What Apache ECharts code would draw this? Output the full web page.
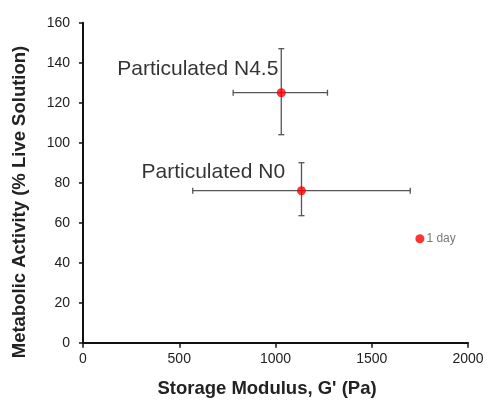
<!DOCTYPE html>
<html>
<head>
<meta charset="utf-8">
<script src="https://cdn.jsdelivr.net/npm/echarts@6/dist/echarts.min.js"></script>
<style>
html,body{margin:0;padding:0;background:#fff;}
#chart{width:488px;height:402px;}
</style>
</head>
<body>
<div id="chart"></div>
<script>
// Samples: storage modulus (Pa) vs metabolic activity (% live solution)
const sampleNames = ['Particulated N4.5', 'Particulated N0'];
const modulus = [1030, 1135];
const modulusLow = [780, 570];
const modulusHigh = [1270, 1700];
const activity = [125, 76];
const activityLow = [104, 63.5];
const activityHigh = [147, 90];

// Reference point at 1 day
const dayPoint = [1750, 52];
const dayLabel = '1 day';

const xTicks = [0, 500, 1000, 1500, 2000];
const yTicks = [0, 20, 40, 60, 80, 100, 120, 140, 160];

const xTitle = "Storage Modulus, G' (Pa)";
const yTitle = 'Metabolic Activity (% Live Solution)';

const chart = echarts.init(document.getElementById('chart'), null, {renderer: 'canvas'});

const errData = modulus.map((m, i) => [m, activity[i], modulusLow[i], modulusHigh[i], activityLow[i], activityHigh[i]]);

function renderErr(params, api) {
  const x = api.value(0), y = api.value(1);
  const c = api.coord([x, y]);
  const xl = api.coord([api.value(2), y]);
  const xh = api.coord([api.value(3), y]);
  const yl = api.coord([x, api.value(4)]);
  const yh = api.coord([x, api.value(5)]);
  const cap = 3;
  const style = {stroke: '#555', lineWidth: 1.3, fill: null};
  return {
    type: 'group',
    children: [
      {type: 'line', shape: {x1: xl[0], y1: c[1], x2: xh[0], y2: c[1]}, style},
      {type: 'line', shape: {x1: xl[0], y1: c[1] - cap, x2: xl[0], y2: c[1] + cap}, style},
      {type: 'line', shape: {x1: xh[0], y1: c[1] - cap, x2: xh[0], y2: c[1] + cap}, style},
      {type: 'line', shape: {x1: c[0], y1: yl[1], x2: c[0], y2: yh[1]}, style},
      {type: 'line', shape: {x1: c[0] - cap, y1: yl[1], x2: c[0] + cap, y2: yl[1]}, style},
      {type: 'line', shape: {x1: c[0] - cap, y1: yh[1], x2: c[0] + cap, y2: yh[1]}, style}
    ]
  };
}

const axisText = {fontFamily: 'Liberation Sans', fontSize: 14, color: '#222', formatter: v => String(v)};
const titleFont = {fontFamily: 'Liberation Sans', fontSize: 18.5, fontWeight: 'bold', fill: '#222',
  textAlign: 'center', textVerticalAlign: 'middle'};

chart.setOption({
  animation: false,
  backgroundColor: '#fff',
  grid: {left: 83, right: 20, top: 22.7, bottom: 59.3, containLabel: false, outerBoundsMode: 'none'},
  graphic: [
    {type: 'text', x: 267, y: 389, style: Object.assign({text: xTitle}, titleFont)},
    {type: 'text', x: 20, y: 202, rotation: Math.PI / 2, style: Object.assign({text: yTitle}, titleFont)}
  ],
  xAxis: {
    type: 'value', min: xTicks[0], max: xTicks[xTicks.length - 1], interval: 500,
    axisLine: {lineStyle: {color: '#111', width: 2}},
    axisTick: {show: true, inside: false, length: 5, lineStyle: {color: '#111', width: 1.5}},
    axisLabel: Object.assign({margin: 9}, axisText),
    splitLine: {show: false}
  },
  yAxis: {
    type: 'value', min: yTicks[0], max: yTicks[yTicks.length - 1], interval: 20,
    axisLine: {lineStyle: {color: '#111', width: 2}},
    axisTick: {show: true, inside: false, length: 4, lineStyle: {color: '#111', width: 1.5}},
    axisLabel: Object.assign({margin: 13}, axisText),
    splitLine: {show: false}
  },
  series: [
    {
      type: 'custom',
      renderItem: renderErr,
      data: errData,
      z: 2,
      encode: {x: 0, y: 1}
    },
    {
      type: 'scatter',
      symbol: 'circle',
      symbolSize: 9,
      itemStyle: {color: '#ff0000'},
      data: modulus.map((m, i) => ({
        value: [m, activity[i]],
        label: {
          show: true,
          formatter: sampleNames[i],
          position: i === 0 ? [-159.5, -29] : [-155.5, -24],
          fontFamily: 'Liberation Sans',
          fontSize: 21,
          color: '#000'
        }
      })),
      z: 3
    },
    {
      type: 'scatter',
      symbol: 'circle',
      symbolSize: 9,
      itemStyle: {color: '#ff0000'},
      data: [{
        value: dayPoint,
        label: {show: true, formatter: dayLabel, position: 'right', distance: 2,
          fontFamily: 'Liberation Sans', fontSize: 12, color: '#555'}
      }],
      z: 3
    }
  ]
});
</script>
</body>
</html>
